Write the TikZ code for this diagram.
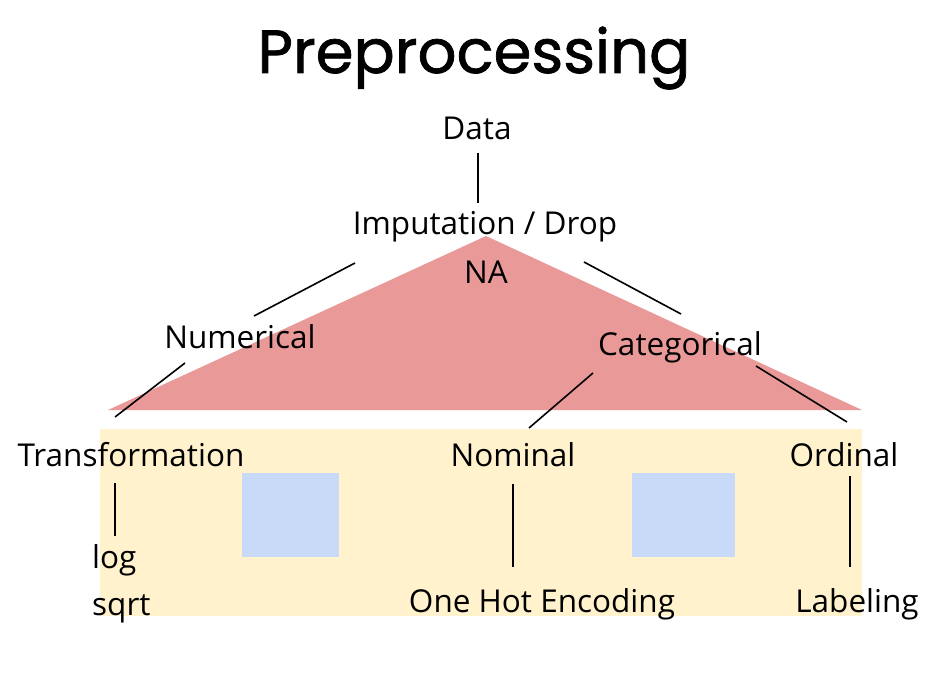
\documentclass[tikz,border=0pt]{standalone}
\usepackage{fontspec}
\setmainfont{Open Sans}
\newfontfamily\titlefont{Poppins}[UprightFeatures={FakeBold=1.2}]
\usetikzlibrary{calc}
\usepackage{xcolor}
\definecolor{roofred}{HTML}{EA9999}
\definecolor{wallyellow}{HTML}{FFF2CC}
\definecolor{windowblue}{HTML}{C9DAF8}

\begin{document}
\begin{tikzpicture}[x=1pt,y=-1pt]
\tikzstyle{label} = [inner sep=0pt, anchor=base, font=\fontsize{31.5}{36}\selectfont]
\tikzstyle{leaf} = [label, anchor=base west]
\tikzstyle{line} = [draw, line width=1.6pt]
\useasboundingbox (0,0) rectangle (944,676);
% house
\fill[wallyellow] (100,429) rectangle (862,616);
\fill[windowblue] (242,473) rectangle (339,557);
\fill[windowblue] (632,473) rectangle (735,557);
\fill[roofred] (486,236) -- (108,410) -- (862,410) -- cycle;
% title
\node [inner sep=0pt, anchor=base, font=\titlefont\fontsize{61}{68}\selectfont] (title) at (474,73) {Preprocessing};
% labels
\node [label] (data) at (477,140) {Data};
\node [label] (imput) at (485,234) {Imputation / Drop};
\node [label] (na) at (486,283) {NA};
\node [label] (num) at (240,348) {Numerical};
\node [label] (cat) at (680,355) {Categorical};
\node [label] (trans) at (131,466) {Transformation};
\node [label] (nom) at (513,466) {Nominal};
\node [label] (ord) at (844,466) {Ordinal};
\node [leaf] (log) at (92,568) {log};
\node [leaf] (sqrt) at (92,615) {sqrt};
\node [label] (ohe) at (542,612) {One Hot Encoding};
\node [label] (lab) at (857,612) {Labeling};
\tikzstyle{every path}=[line]
\path ($(data.base)+(1,13)$) -- ($(imput.base)+(-7,-31)$);
\path ($(imput.base)+(-130,29)$) -- ($(num.base)+(14,-32)$);
\path ($(imput.base)+(99,28)$) -- ($(cat.base)+(1,-41)$);
\path ($(num.base)+(-55,15)$) -- ($(trans.base)+(-16,-49)$);
\path ($(cat.base)+(-87,18)$) -- ($(nom.base)+(16,-38)$);
\path ($(cat.base)+(76,11)$) -- ($(ord.base)+(3,-44)$);
\path ($(trans.base)+(-16,17)$) -- ($(log.base west)+(23,-32)$);
\path ($(nom.base)+(0,18)$) -- ($(ohe.base)+(-29,-45)$);
\path ($(ord.base)+(6,10)$) -- ($(lab.base)+(-7,-45)$);
\end{tikzpicture}
\end{document}
